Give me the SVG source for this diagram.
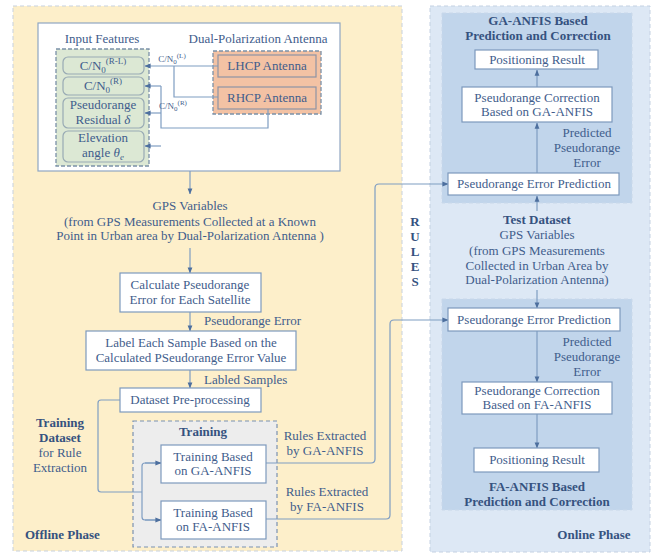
<svg xmlns="http://www.w3.org/2000/svg" width="654" height="555" viewBox="0 0 654 555" font-family="Liberation Serif, DejaVu Serif, serif">
<defs>
<marker id="ah" viewBox="0 0 8 8" refX="7.5" refY="4" markerWidth="6" markerHeight="6" orient="auto" markerUnits="userSpaceOnUse">
<path d="M0,0.8 L8,4 L0,7.2 Z" fill="#4d6f9e"/>
</marker>
<style>
text{font-family:'Liberation Serif','DejaVu Serif',serif}
.t{font-size:13px;fill:#3f5d8c;text-anchor:middle}
.s{font-size:9px}
.b{font-weight:bold;fill:#35527f}
.l{text-anchor:start}
.box{fill:#fff;stroke:#7d99bd;stroke-width:1.2}
.ln{fill:none;stroke:#7f9dc2;stroke-width:1.2}
.feat{fill:#dce8d4;stroke:#98aab4;stroke-width:1.2}
.ant{fill:#f3c2a4;stroke:#8e93a6;stroke-width:1.2}
</style>
</defs>

<g id="panels">
<rect x="13" y="6" width="389" height="545" fill="#fdefca" stroke="#c7d1de" stroke-dasharray="4 3"/>
<rect x="430" y="6" width="220" height="546" fill="#dde8f5" stroke="#c4d1e2" stroke-dasharray="4 3"/>
<rect x="442" y="13" width="190" height="190" fill="#c1d5eb" stroke="#c9d8ea" stroke-dasharray="4 3"/>
<rect x="442" y="299" width="190" height="211" fill="#c1d5eb" stroke="#c9d8ea" stroke-dasharray="4 3"/>
<rect x="38" y="23" width="302" height="148" fill="#fff" stroke="#8fa6c2" stroke-width="1.2"/>
<rect x="56" y="49" width="93" height="117" fill="#dce8d4" stroke="#7b91a8" stroke-width="1.3" stroke-dasharray="4 2"/>
<rect x="213" y="51" width="108" height="63" fill="#f3c2a4" stroke="#7b91a8" stroke-width="1.3" stroke-dasharray="4 2"/>
<rect x="133" y="421" width="144" height="126" fill="#ededed" stroke="#7b91b0" stroke-width="1.2" stroke-dasharray="4 3"/>
</g>

<g id="labels">
<text class="t" x="102" y="43">Input Features</text>
<text class="t" x="258" y="43">Dual-Polarization Antenna</text>
<text class="t" x="190" y="210">GPS Variables</text>
<text class="t" x="190" y="226">(from GPS Measurements Collected at a Known</text>
<text class="t" x="190" y="240">Point in Urban area by Dual-Polarization Antenna )</text>
<text class="t l" x="204" y="325">Pseudorange Error</text>
<text class="t l" x="204" y="384">Labled Samples</text>
<text class="t b" x="60" y="427">Training</text>
<text class="t b" x="60" y="442">Dataset</text>
<text class="t" x="60" y="457">for Rule</text>
<text class="t" x="60" y="472">Extraction</text>
<text class="t b" x="203" y="436">Training</text>
<text class="t" x="325" y="440">Rules Extracted</text>
<text class="t" x="325" y="455">by GA-ANFIS</text>
<text class="t" x="327" y="496">Rules Extracted</text>
<text class="t" x="327" y="511">by FA-ANFIS</text>
<text class="t b l" x="25" y="539">Offline Phase</text>
<text class="t b" x="415" y="226">R</text>
<text class="t b" x="415" y="241">U</text>
<text class="t b" x="415" y="256">L</text>
<text class="t b" x="415" y="271">E</text>
<text class="t b" x="415" y="286">S</text>
<text class="t b" x="538" y="25">GA-ANFIS Based</text>
<text class="t b" x="538" y="40">Prediction and Correction</text>
<text class="t" x="587" y="137">Predicted</text>
<text class="t" x="587" y="152">Pseudorange</text>
<text class="t" x="587" y="167">Error</text>
<text class="t b" x="537" y="224">Test Dataset</text>
<text class="t" x="537" y="239">GPS Variables</text>
<text class="t" x="537" y="255">(from GPS Measurements</text>
<text class="t" x="537" y="270">Collected in Urban Area by</text>
<text class="t" x="537" y="284">Dual-Polarization Antenna)</text>
<text class="t" x="587" y="346">Predicted</text>
<text class="t" x="587" y="361">Pseudorange</text>
<text class="t" x="587" y="376">Error</text>
<text class="t b" x="537" y="491">FA-ANFIS Based</text>
<text class="t b" x="537" y="506">Prediction and Correction</text>
<text class="t b" x="594" y="539">Online Phase</text>
</g>

<g id="connectors">
<path class="ln" d="M218,66 H145" marker-end="url(#ah)"/>
<path class="ln" d="M174,66 V97 H218"/>
<path class="ln" d="M268,109 V128 H161 V86"/>
<path class="ln" d="M161,86 H145" marker-end="url(#ah)"/>
<path class="ln" d="M161,113 H145" marker-end="url(#ah)"/>
<path class="ln" d="M161,146 H145" marker-end="url(#ah)"/>
<path class="ln" d="M190,171 V194" marker-end="url(#ah)"/>
<path class="ln" d="M190,248 V273" marker-end="url(#ah)"/>
<path class="ln" d="M190,312 V331" marker-end="url(#ah)"/>
<path class="ln" d="M190,370 V388" marker-end="url(#ah)"/>
<path class="ln" d="M120,400 H101 Q98,400 98,403 V489 Q98,492 101,492 H142"/>
<path class="ln" d="M161,463 H145 Q142,463 142,466 V517 Q142,520 145,520 H161"/>
<path class="ln" d="M145,463 H161" marker-end="url(#ah)"/>
<path class="ln" d="M145,520 H161" marker-end="url(#ah)"/>
<path class="ln" d="M266,463 H371 Q375,463 375,459 V188 Q375,184 379,184 H448" marker-end="url(#ah)"/>
<path class="ln" d="M266,519 H386 Q390,519 390,515 V324 Q390,320 394,320 H448" marker-end="url(#ah)"/>
<path class="ln" d="M537,173 V123" marker-end="url(#ah)"/>
<path class="ln" d="M537,87 V70" marker-end="url(#ah)"/>
<path class="ln" d="M537,211 V196" marker-end="url(#ah)"/>
<path class="ln" d="M537,290 V308" marker-end="url(#ah)"/>
<path class="ln" d="M537,331 V382" marker-end="url(#ah)"/>
<path class="ln" d="M537,414 V448" marker-end="url(#ah)"/>
<text class="t s" x="172" y="62" text-anchor="start">C/N<tspan font-size="7" dy="2">0</tspan><tspan font-size="7" dy="-6">(L)</tspan></text>
<text class="t s" x="173" y="109" text-anchor="start">C/N<tspan font-size="7" dy="2">0</tspan><tspan font-size="7" dy="-6">(R)</tspan></text>
</g>

<g id="feat-cn0-rl">
<rect class="feat" x="63" y="57" width="81" height="17" rx="5"/>
<text class="t" x="103" y="70">C/N<tspan font-size="9" dy="3">0</tspan><tspan font-size="9" dy="-9">(R-L)</tspan></text>
</g>
<g id="feat-cn0-r">
<rect class="feat" x="63" y="77" width="81" height="18" rx="5"/>
<text class="t" x="103" y="90">C/N<tspan font-size="9" dy="3">0</tspan><tspan font-size="9" dy="-9">(R)</tspan></text>
</g>
<g id="feat-residual">
<rect class="feat" x="63" y="98" width="81" height="30" rx="5"/>
<text class="t" x="103" y="109">Pseudorange</text>
<text class="t" x="103" y="124">Residual <tspan font-style="italic">δ</tspan></text>
</g>
<g id="feat-elev">
<rect class="feat" x="63" y="131" width="81" height="31" rx="5"/>
<text class="t" x="103" y="142">Elevation</text>
<text class="t" x="103" y="157">angle <tspan font-style="italic">θ</tspan><tspan font-style="italic" font-size="9" dy="3">e</tspan></text>
</g>
<g id="lhcp">
<rect class="ant" x="218" y="55" width="98" height="22"/>
<text class="t" x="267" y="70">LHCP Antenna</text>
</g>
<g id="rhcp">
<rect class="ant" x="218" y="87" width="98" height="22"/>
<text class="t" x="267" y="102">RHCP Antenna</text>
</g>
<g id="calc">
<rect class="box" x="120" y="273" width="141" height="39"/>
<text class="t" x="190" y="289">Calculate Pseudorange</text>
<text class="t" x="190" y="304">Error for Each Satellite</text>
</g>
<g id="label-sample">
<rect class="box" x="86" y="331" width="210" height="39"/>
<text class="t" x="191" y="347">Label Each Sample Based on the</text>
<text class="t" x="191" y="362">Calculated PSeudorange Error Value</text>
</g>
<g id="preproc">
<rect class="box" x="120" y="388" width="141" height="24"/>
<text class="t" x="190" y="404">Dataset Pre-processing</text>
</g>
<g id="train-ga">
<rect class="box" x="161" y="445" width="105" height="38"/>
<text class="t" x="213" y="461">Training Based</text>
<text class="t" x="213" y="475">on GA-ANFIS</text>
</g>
<g id="train-fa">
<rect class="box" x="161" y="501" width="105" height="38"/>
<text class="t" x="213" y="517">Training Based</text>
<text class="t" x="213" y="531">on FA-ANFIS</text>
</g>
<g id="ga-pos">
<rect class="box" x="475" y="50" width="123" height="19"/>
<text class="t" x="537" y="64">Positioning Result</text>
</g>
<g id="ga-corr">
<rect class="box" x="462" y="87" width="150" height="35"/>
<text class="t" x="537" y="102">Pseudorange Correction</text>
<text class="t" x="537" y="116">Based on GA-ANFIS</text>
</g>
<g id="ga-pred">
<rect class="box" x="448" y="173" width="171" height="22"/>
<text class="t" x="534" y="188">Pseudorange Error Prediction</text>
</g>
<g id="fa-pred">
<rect class="box" x="448" y="308" width="172" height="23"/>
<text class="t" x="534" y="324">Pseudorange Error Prediction</text>
</g>
<g id="fa-corr">
<rect class="box" x="462" y="382" width="150" height="32"/>
<text class="t" x="537" y="395">Pseudorange Correction</text>
<text class="t" x="537" y="409">Based on FA-ANFIS</text>
</g>
<g id="fa-pos">
<rect class="box" x="474" y="448" width="125" height="24"/>
<text class="t" x="537" y="464">Positioning Result</text>
</g>
</svg>
